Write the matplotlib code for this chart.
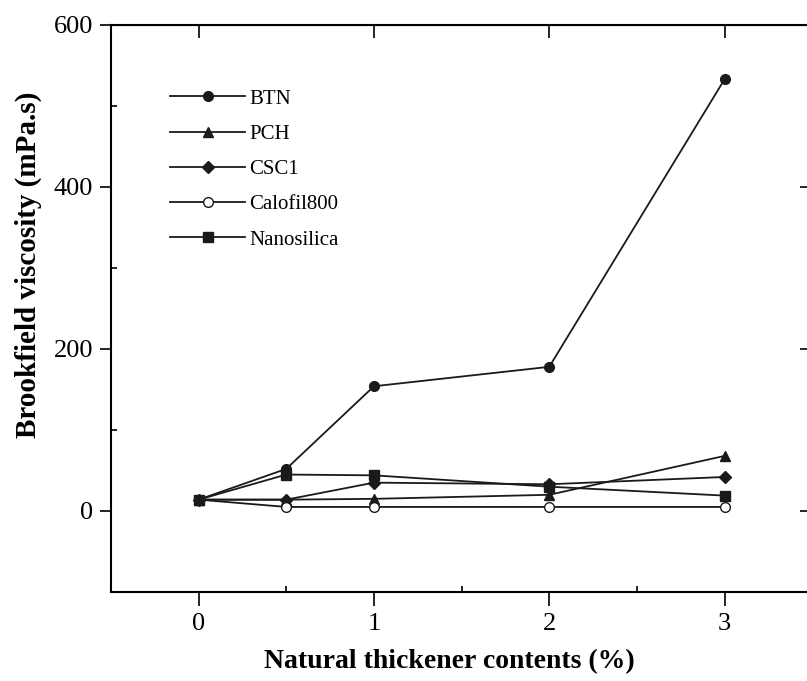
import matplotlib
matplotlib.use("Agg")
import matplotlib.pyplot as plt
from matplotlib.ticker import MultipleLocator

plt.rcParams['font.family'] = ['Liberation Serif', 'DejaVu Serif']

# thickener content (%) and Brookfield viscosity (mPa.s) per thickener
content = [0, 0.5, 1, 2, 3]
btn = [14, 52, 154, 178, 533]
pch = [14, 14, 15, 20, 68]
csc1 = [14, 14, 35, 33, 42]
calofil800 = [14, 5, 5, 5, 5]
nanosilica = [14, 45, 44, 30, 19]

fig = plt.figure(figsize=(8.07, 6.81), dpi=100)
ax = fig.add_axes([0.1375, 0.1307, 0.869, 0.8326])

kw = dict(color='#1a1a1a', lw=1.3, markersize=7)
ax.plot(content, btn, marker='o', label='BTN', **kw)
ax.plot(content, pch, marker='^', label='PCH', **kw)
ax.plot(content, csc1, marker='D', label='CSC1', markersize=6, color='#1a1a1a', lw=1.3)
ax.plot(content, calofil800, marker='o', mfc='white', label='Calofil800', **kw)
ax.plot(content, nanosilica, marker='s', label='Nanosilica', **kw)

ax.set_xlim(-0.5, 3.5)
ax.set_ylim(-100, 600)
ax.xaxis.set_major_locator(MultipleLocator(1))
ax.xaxis.set_minor_locator(MultipleLocator(0.5))
ax.yaxis.set_major_locator(MultipleLocator(200))
ax.yaxis.set_minor_locator(MultipleLocator(100))
ax.tick_params(which='major', direction='out', width=1.2, labelsize=19, pad=5)
ax.tick_params(axis='x', which='major', length=10)
ax.tick_params(axis='y', which='major', length=8)
ax.tick_params(which='minor', direction='in', length=4, width=1.2)
for s in ax.spines.values():
    s.set_linewidth(1.5)

# mirrored ticks on top and right
top = ax.secondary_xaxis('top')
top.xaxis.set_major_locator(MultipleLocator(1))
top.tick_params(direction='in', length=9, width=1.2, labeltop=False)
right = ax.secondary_yaxis('right')
right.yaxis.set_major_locator(MultipleLocator(200))
right.tick_params(direction='in', length=9, width=1.2, labelright=False)

ax.set_xlabel('Natural thickener contents (%)', fontsize=20, fontweight='bold')
ax.xaxis.set_label_coords(0.482, -0.1)
ax.set_ylabel('Brookfield viscosity (mPa.s)', fontsize=21, fontweight='bold')
ax.yaxis.set_label_coords(-0.098, 0.577)

ax.legend(loc='upper left', bbox_to_anchor=(0.058, 0.92), frameon=False, fontsize=15,
          handlelength=3.6, labelspacing=0.75, handletextpad=0.2)

fig.savefig('out.png', dpi=100)
